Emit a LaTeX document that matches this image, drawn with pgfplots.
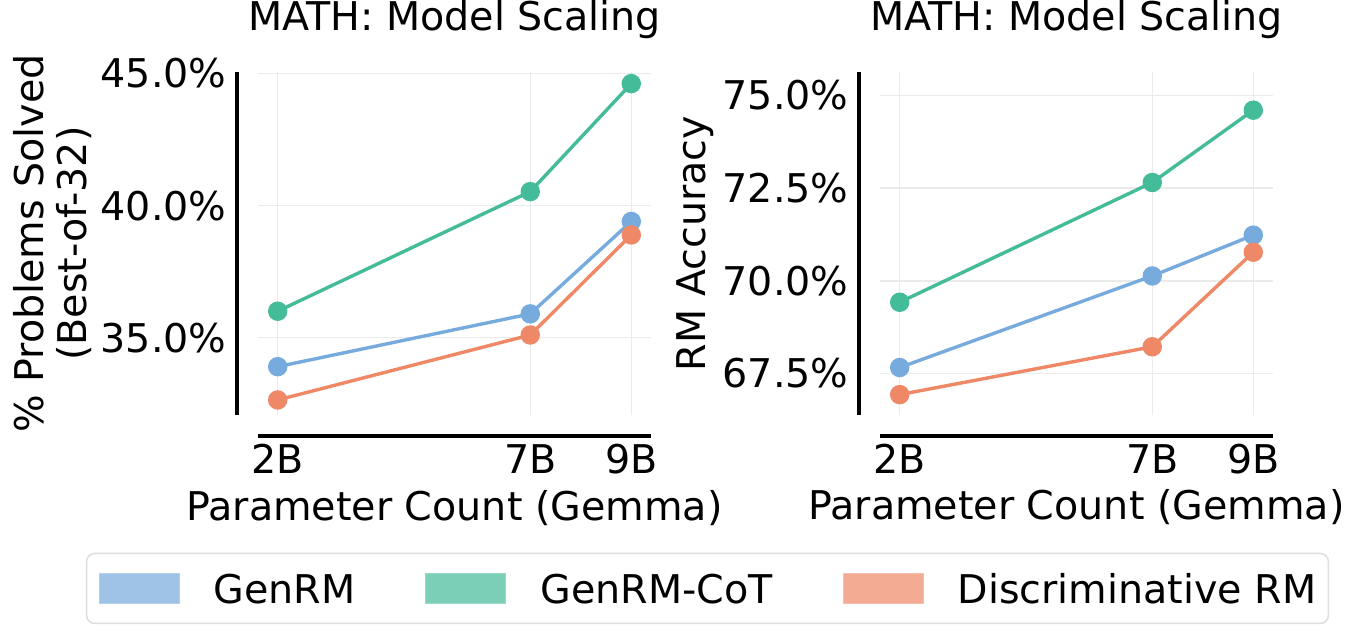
\documentclass[border=0pt]{standalone}
\usepackage{fontspec}
\setmainfont{DejaVu Sans}
\usepackage{pgfplots}
\pgfplotsset{compat=1.18}

\definecolor{tolblue}{HTML}{77AADD}
\definecolor{tolmint}{HTML}{44BB99}
\definecolor{tolorange}{HTML}{EE8866}

\tikzset{
  legpatch/.style={sharp corners, fill=#1, fill opacity=0.7, draw=#1!55!white, line width=0.5pt},
}

% offset spines, seaborn style
\pgfplotsset{
  panel/.style={
    scale only axis, width=196.5pt, height=171.5pt,
    anchor=south west, clip=false,
    axis line style={draw=none},
    major tick length=0pt, tick style={draw=none},
    grid=major,
    major grid style={color=black!8, line width=0.75pt},
    xmin=1.61, xmax=9.39,
    xtick={2,7,9}, xticklabels={2B,7B,9B},
    xticklabel style={anchor=base, inner sep=0pt, yshift=-29.5pt},
    yticklabel style={anchor=east, inner sep=0pt, xshift=-15.5pt},
    title style={at={(rel axis cs:0.5,1)}, anchor=base, inner sep=0pt, yshift=14.5pt},
    xlabel style={at={(rel axis cs:0.5,0)}, anchor=base, inner sep=0pt, yshift=-52.5pt},
    ylabel style={at={([xshift=-83pt]rel axis cs:0,0.5)}, anchor=south, inner sep=0pt, align=center},
    every axis plot/.append style={line width=1.7pt, mark=*, mark size=4pt},
    after end axis/.code={
      \draw[line width=2pt] ([xshift=-10.5pt]rel axis cs:0,0) -- ([xshift=-10.5pt]rel axis cs:0,1);
      \draw[line width=2pt] ([yshift=-10.5pt]rel axis cs:0,0) -- ([yshift=-10.5pt]rel axis cs:1,0);
    },
  },
}

\begin{document}
\begin{tikzpicture}[font=\fontsize{19.8}{20}\selectfont]
\path[use as bounding box] (0,0) rectangle (675pt,318.5pt);

\begin{axis}[
    panel, at={(129pt,111pt)},
    ymin=32.07, ymax=45.06,
    ytick={35,40,45}, yticklabels={35.0\%,40.0\%,45.0\%},
    title={MATH: Model Scaling},
    xlabel={Parameter Count (Gemma)},
    ylabel={\% Problems Solved\\[1.5pt](Best-of-32)},
    legend columns=3,
    legend style={
        at={(1.1438,-0.5058)}, anchor=center,
        draw=black!13, line width=0.75pt, rounded corners=4pt,
        inner xsep=6pt, inner ysep=9.75pt,
        nodes={inner sep=0pt, text depth=0pt},
        /tikz/every odd column/.append style={column sep=17pt},
        /tikz/every even column/.append style={column sep=35pt},
      },
  ]
\addplot[tolblue, forget plot] coordinates {(2,33.90) (7,35.90) (9,39.40)};
\addplot[tolmint, forget plot] coordinates {(2,36.00) (7,40.53) (9,44.62)};
\addplot[tolorange, forget plot] coordinates {(2,32.64) (7,35.10) (9,38.89)};
\addlegendimage{legend image code/.code={\draw[legpatch=tolblue] (0pt,-7.5pt) rectangle (40pt,7.5pt);}}
\addlegendentry{GenRM}
\addlegendimage{legend image code/.code={\draw[legpatch=tolmint] (0pt,-7.5pt) rectangle (40pt,7.5pt);}}
\addlegendentry{GenRM-CoT}
\addlegendimage{legend image code/.code={\draw[legpatch=tolorange] (0pt,-7.5pt) rectangle (40pt,7.5pt);}}
\addlegendentry{Discriminative RM}
\end{axis}

\begin{axis}[
    panel, at={(440pt,111pt)},
    ymin=66.38, ymax=75.63,
    ytick={67.5,70,72.5,75}, yticklabels={67.5\%,70.0\%,72.5\%,75.0\%},
    title={MATH: Model Scaling},
    xlabel={Parameter Count (Gemma)},
    ylabel={RM Accuracy},
  ]
\addplot[tolblue] coordinates {(2,67.66) (7,70.13) (9,71.23)};
\addplot[tolmint] coordinates {(2,69.42) (7,72.65) (9,74.60)};
\addplot[tolorange] coordinates {(2,66.93) (7,68.22) (9,70.77)};
\end{axis}
\end{tikzpicture}
\end{document}
